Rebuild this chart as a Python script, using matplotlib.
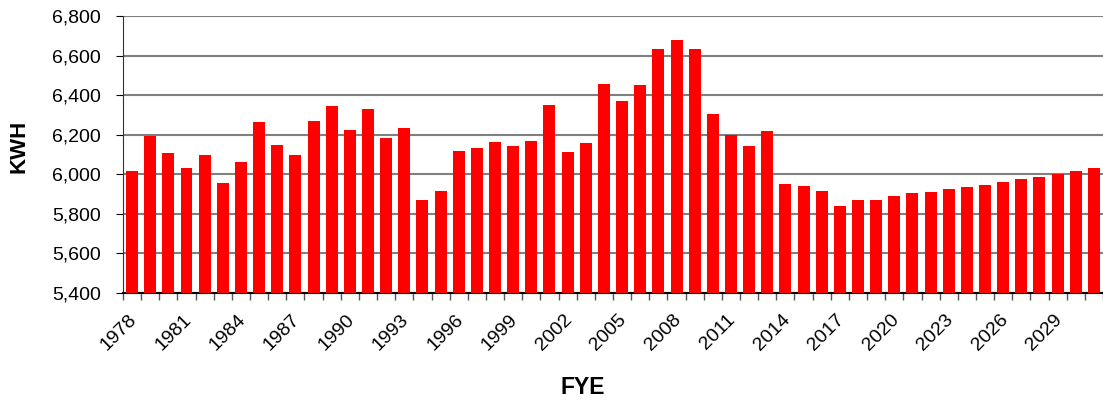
import matplotlib
matplotlib.use("Agg")
import matplotlib.pyplot as plt
import matplotlib.transforms as mtrans
import numpy as np
from matplotlib.ticker import FuncFormatter, MultipleLocator

years = list(range(1978, 2032))
kwh = [6015, 6195, 6110, 6030, 6100, 5955, 6060, 6265, 6150, 6095,
       6270, 6345, 6225, 6330, 6185, 6235, 5870, 5915, 6120, 6135,
       6165, 6145, 6170, 6350, 6115, 6160, 6455, 6370, 6450, 6635,
       6680, 6635, 6305, 6200, 6145, 6220, 5950, 5940, 5915, 5840,
       5870, 5870, 5890, 5905, 5910, 5925, 5935, 5945, 5960, 5975,
       5985, 6000, 6015, 6030]
label_years = years[::3]

plt.rcParams['font.family'] = ['Liberation Sans', 'DejaVu Sans']

fig = plt.figure(figsize=(11.03, 4), dpi=100)
ax = fig.add_axes([0.1115, 0.2675, 0.8885, 0.6925])

ax.bar(years, [v - 5400 for v in kwh], bottom=5400, width=0.66,
       color="#ff0000", zorder=3)

ax.set_ylim(5400, 6800)
ax.set_xlim(1977.5, 2031.18)
ax.yaxis.set_major_locator(MultipleLocator(200))
ax.yaxis.set_major_formatter(FuncFormatter(lambda v, p: f"{int(v):,}"))
ax.grid(axis="y", color="#808080", linewidth=1.5, zorder=0)

# category boundary ticks, labels every third year
ax.set_xticks(label_years)
ax.set_xticklabels([str(y) for y in label_years], rotation=45, ha="right",
                   rotation_mode="anchor", fontsize=14)
ax.set_xticks(np.arange(1977.5, 2032, 1), minor=True)
ax.tick_params(axis="x", which="major", length=0, pad=13)
ax.tick_params(axis="x", which="minor", length=5, width=1, color="#555555")
ax.tick_params(axis="y", length=5, labelsize=14, pad=11)

shift = mtrans.ScaledTranslation(-4 / 100, 0, fig.dpi_scale_trans)
for lbl in ax.get_xticklabels():
    lbl.set_transform(lbl.get_transform() + shift)

for s in ["top", "right"]:
    ax.spines[s].set_visible(False)
ax.spines["left"].set_color("#333333")
ax.spines["bottom"].set_color("black")
ax.spines["bottom"].set_linewidth(1.5)

fig.text(0.528, 0.03, "FYE", ha="center", va="center", fontsize=16.5, fontweight="bold")
fig.text(0.017, 0.635, "KWH", ha="center", va="center", rotation=90,
         fontsize=16, fontweight="bold")

fig.savefig("out.png", dpi=100)
